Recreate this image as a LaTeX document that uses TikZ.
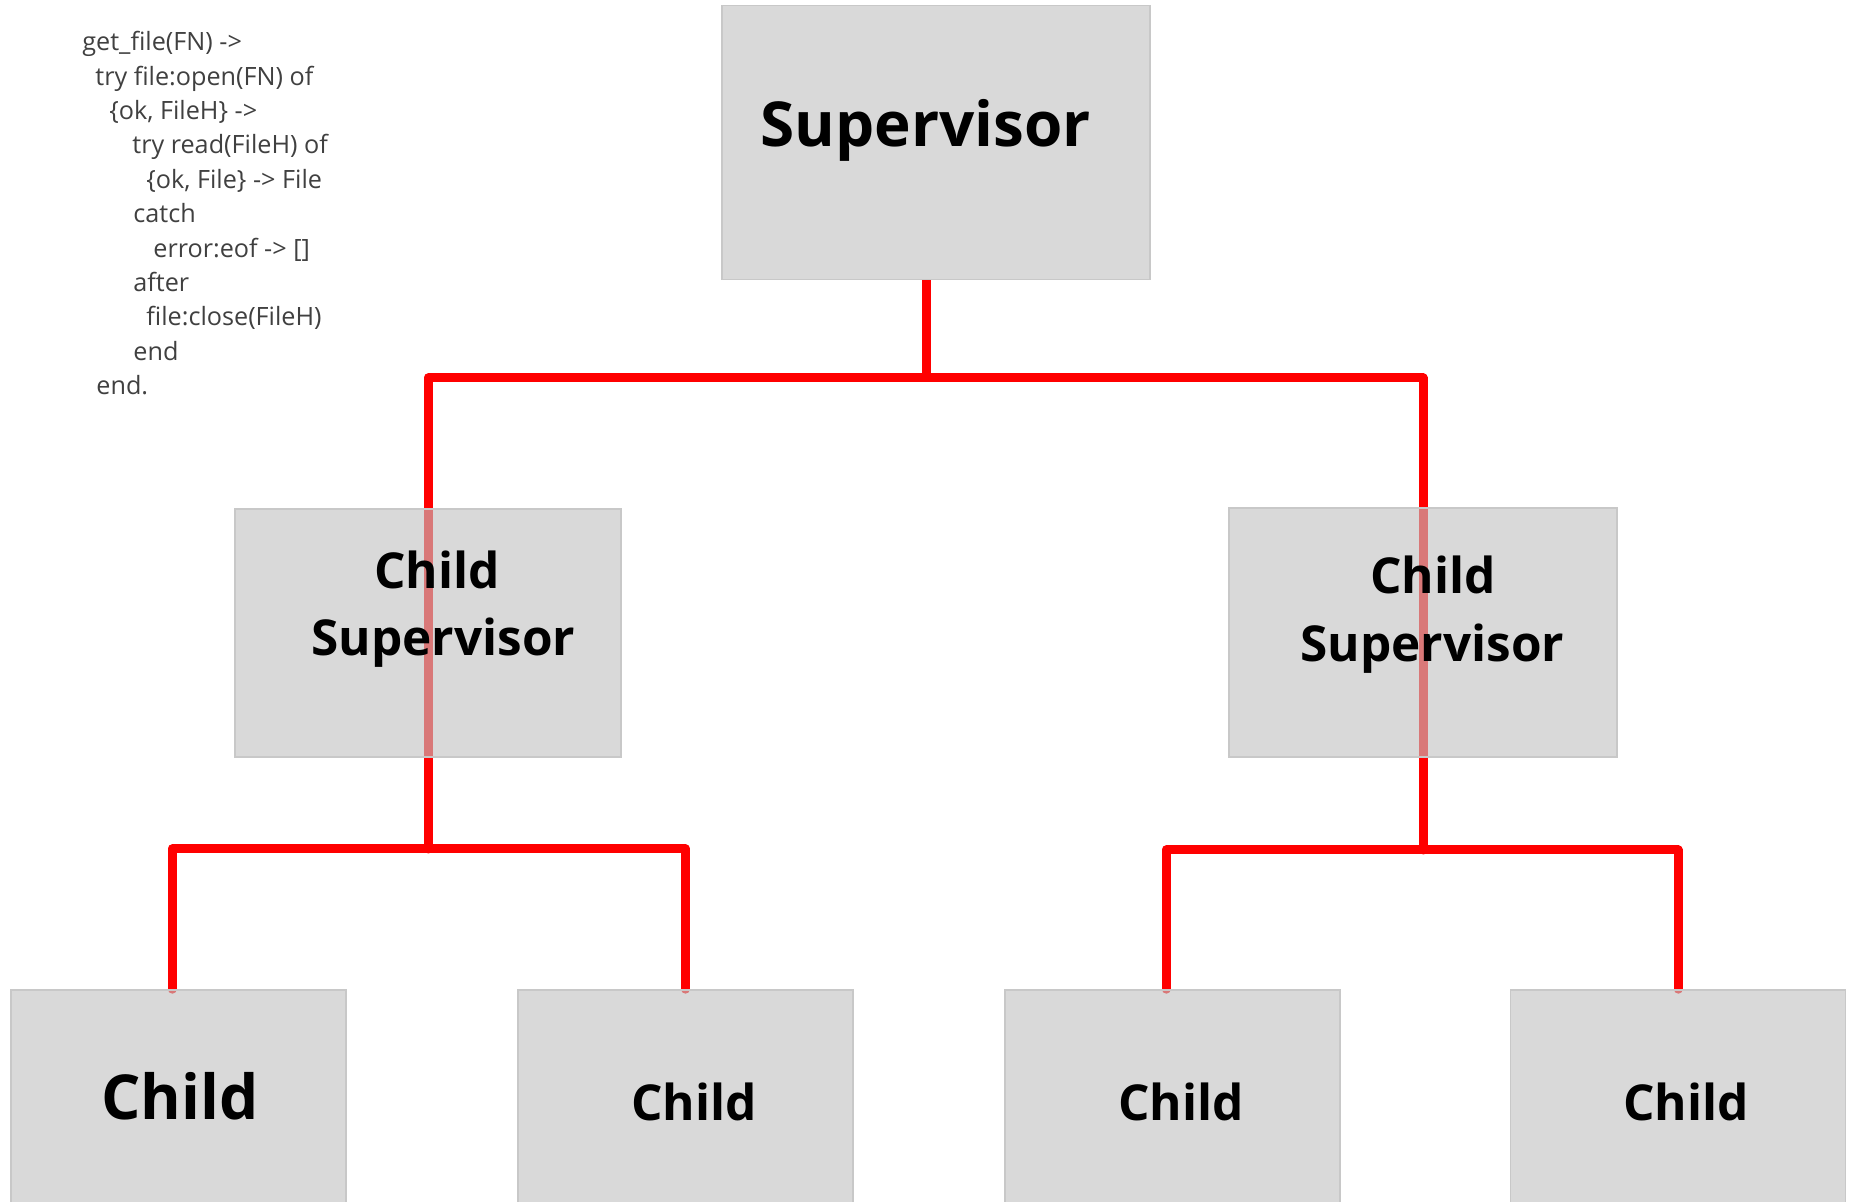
\documentclass[tikz,border=0pt]{standalone}
\usepackage{fontspec}
\setmainfont{Open Sans}
\usetikzlibrary{positioning,backgrounds}
\definecolor{boxgray}{RGB}{194,194,194}
\definecolor{boxline}{RGB}{200,200,200}
\definecolor{codegray}{RGB}{64,64,64}
\tikzset{
  box/.style={rectangle,draw=boxline,line width=0.8pt,fill=boxgray,fill opacity=0.62,inner sep=0pt},
  wire/.style={draw=red,line width=4.5pt,line cap=round,line join=round},
  label/.style={anchor=base west,inner sep=0pt,text=black},
  bigfont/.style={font=\fontsize{31}{38}\selectfont\bfseries},
  midfont/.style={font=\fontsize{24.75}{30}\selectfont\bfseries},
  childfont/.style={font=\fontsize{24.75}{30}\selectfont\bfseries}
}
\begin{document}
\begin{tikzpicture}[x=0.5pt,y=-0.5pt]
\useasboundingbox (0,0) rectangle (1849,1202);
\clip (0,0) rectangle (1849,1202);

% the code
\node[anchor=north west,inner sep=0pt,align=left,text=codegray,
      font=\fontsize{12.6}{17.2}\selectfont] (code) at (82,31) {get\_file(FN) ->\\
\hspace*{6.5pt}try file:open(FN) of\\
\hspace*{13.5pt}\{ok, FileH\} ->\\
\hspace*{25pt}try read(FileH) of\\
\hspace*{32pt}\{ok, File\} -> File\\
\hspace*{25.5pt}catch\\
\hspace*{35.5pt}error:eof -> []\\
\hspace*{25.5pt}after\\
\hspace*{32pt}file:close(FileH)\\
\hspace*{25.5pt}end\\
\hspace*{7pt}end.};

% boxes
\node[box,minimum width=214pt,minimum height=137pt] (sup) at (936,142.5) {};
\node[box,minimum width=193pt,minimum height=124pt] (csl) at (428,633) {};
\node[box,minimum width=194pt,minimum height=124.5pt] (csr) at (1423,632.5) {};
\node[box,minimum width=167.5pt,minimum height=115pt] (c1) at (178.5,1105) {};
\node[box,minimum width=167.5pt,minimum height=115pt] (c2) at (685.5,1105) {};
\node[box,minimum width=167.5pt,minimum height=115pt] (c3) at (1172.5,1105) {};
\node[box,minimum width=167.5pt,minimum height=115pt] (c4) at (1678,1105) {};

% texts
\node[label,bigfont] (supt) at (760,147) {Supervisor};
\node[label,midfont] (cslt) at (374,589) {Child};
\node[label,midfont] (csls) at (311,656) {Supervisor};
\node[label,midfont] (csrt) at (1370,594) {Child};
\node[label,midfont] (csrs) at (1300,662) {Supervisor};
\node[label,font=\fontsize{31}{38}\selectfont\bfseries] (c1t) at (101,1120) {Child};
\node[label,childfont] (c2t) at (631,1121) {Child};
\node[label,childfont] (c3t) at (1118,1121) {Child};
\node[label,childfont] (c4t) at (1623,1121) {Child};

% red lines behind the boxes
\coordinate (top) at (926,378);
\coordinate (jl) at (428,849);
\coordinate (jr) at (1423,850);
\begin{scope}[on background layer]
\draw[wire,line cap=butt] (top |- sup.south) -- (top);
\draw[wire] (jl) -- (jl |- top) -- (jr |- top) -- (jr);
\draw[wire] (c1.north -| 172,0) -- (jl -| 172,0) -- (jl -| c2) -- (c2.north);
\draw[wire] (c3.north -| 1166,0) -- (jr -| 1166,0) -- (jr -| c4) -- (c4.north);
\end{scope}
\end{tikzpicture}
\end{document}
